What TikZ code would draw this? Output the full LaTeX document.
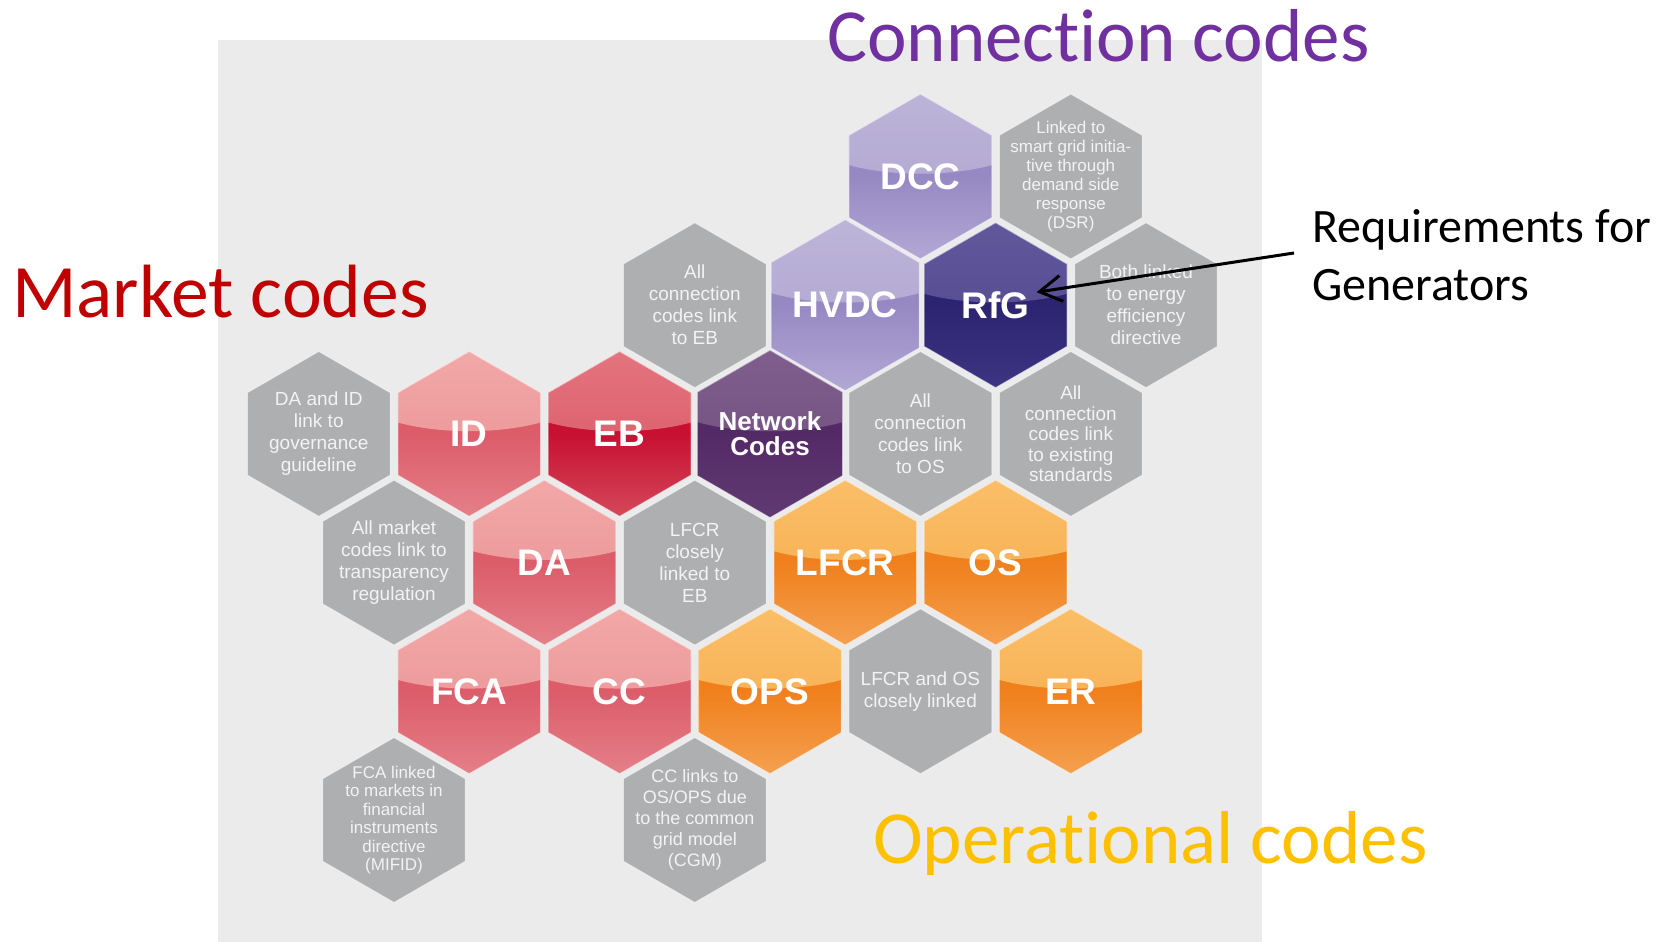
\documentclass[tikz,border=0pt]{standalone}
\usepackage{fontspec}
\setmainfont{Liberation Sans}
\newfontfamily\calibrifont[Ligatures=NoCommon]{Carlito}
\usetikzlibrary{shapes.geometric,calc,arrows.meta}

% panel and cell colours
\definecolor{panelgray}{RGB}{235,235,235}
\definecolor{cellgray}{RGB}{174,175,177}
\definecolor{celltext}{RGB}{243,243,243}
\definecolor{conncol}{RGB}{112,48,160}
\definecolor{marketcol}{RGB}{192,0,0}
\definecolor{opercol}{RGB}{255,192,0}
% glossy cell colours: highlight top, highlight bottom, body middle, body bottom
\definecolor{lpA}{RGB}{190,181,217}\definecolor{lpB}{RGB}{172,162,206}
\definecolor{lpC}{RGB}{150,137,195}\definecolor{lpD}{RGB}{178,168,212}
\definecolor{dpA}{RGB}{98,88,156}\definecolor{dpB}{RGB}{80,70,142}
\definecolor{dpC}{RGB}{44,36,112}\definecolor{dpD}{RGB}{62,53,130}
\definecolor{plA}{RGB}{128,94,142}\definecolor{plB}{RGB}{110,78,126}
\definecolor{plC}{RGB}{84,42,102}\definecolor{plD}{RGB}{96,58,114}
\definecolor{pkA}{RGB}{242,170,168}\definecolor{pkB}{RGB}{234,142,146}
\definecolor{pkC}{RGB}{220,92,106}\definecolor{pkD}{RGB}{228,128,136}
\definecolor{crA}{RGB}{228,118,128}\definecolor{crB}{RGB}{216,84,100}
\definecolor{crC}{RGB}{200,16,50}\definecolor{crD}{RGB}{212,72,90}
\definecolor{orA}{RGB}{250,192,106}\definecolor{orB}{RGB}{247,168,72}
\definecolor{orC}{RGB}{240,128,28}\definecolor{orD}{RGB}{244,160,80}

\begin{document}
\begin{tikzpicture}[x=1pt,y=-1pt,
  hexshape/.style={regular polygon, regular polygon sides=6, shape border rotate=30,
    minimum size=165pt, inner sep=0pt, outer sep=0pt,
    draw=white, draw opacity=0.55, line width=1pt},
  graycell/.style={hexshape, fill=cellgray},
  glossy/.style n args={4}{hexshape, top color=#3, bottom color=#4, middle color=#3,
    text=white, font=\bfseries\fontsize{37}{40}\selectfont,
    path picture={
      \shade[top color=#1, bottom color=#2]
        ([shift={(-80,-95)}]path picture bounding box.center)
        -- ([shift={(80,-95)}]path picture bounding box.center)
        -- ([shift={(80,-14)}]path picture bounding box.center)
        .. controls ([shift={(35,1)}]path picture bounding box.center)
        and ([shift={(-35,1)}]path picture bounding box.center)
        .. ([shift={(-80,-14)}]path picture bounding box.center) -- cycle;
    }},
  lightpurple/.style={glossy={lpA}{lpB}{lpC}{lpD}},
  darkpurple/.style={glossy={dpA}{dpB}{dpC}{dpD}},
  plum/.style={glossy={plA}{plB}{plC}{plD}},
  pink/.style={glossy={pkA}{pkB}{pkC}{pkD}},
  crimson/.style={glossy={crA}{crB}{crC}{crD}},
  orange/.style={glossy={orA}{orB}{orC}{orD}},
  celltxt/.style={align=center, text=celltext, inner sep=0pt,
    font=\fontsize{19}{22}\selectfont},
  smalltxt/.style={celltxt, font=\fontsize{17}{19}\selectfont},
  biglabel/.style={anchor=base west, inner sep=0pt,
    font=\calibrifont\fontsize{75}{80}\selectfont},
  notelabel/.style={anchor=base west, inner sep=0pt, text=black,
    font=\calibrifont\fontsize{48}{56}\selectfont},
  pointer/.style={-{Straight Barb[length=22pt,width=26pt]}, line width=3pt, draw=black}
]
\useasboundingbox (0,0) rectangle (1666,942);
\fill[white] (0,0) rectangle (1666,942);
\fill[panelgray] (218,40) rectangle (1262,942);

% row 0
\node[lightpurple] (DCC) at (770+75.2*2,176.5) {DCC};
\node[graycell] (dsr) at (770+75.2*4,176.5) {};
% row 1
\node[graycell] (ebl) at (770-75.2*1,176.5+128.7) {};
\node[lightpurple] (HVDC) at (770+75.2*1,176.5+128.7) {HVDC};
\node[darkpurple] (RfG) at (770+75.2*3,176.5+128.7) {RfG};
\node[graycell] (eff) at (770+75.2*5,176.5+128.7) {};
% row 2
\node[graycell] (gov) at (770-75.2*6,176.5+128.7*2) {};
\node[pink] (ID) at (770-75.2*4,176.5+128.7*2) {ID};
\node[crimson] (EB) at (770-75.2*2,176.5+128.7*2) {EB};
\node[plum, align=center, font=\bfseries\fontsize{26}{25}\selectfont] (NC)
  at (770,176.5+128.7*2) {Network\\Codes};
\node[graycell] (osl) at (770+75.2*2,176.5+128.7*2) {};
\node[graycell] (std) at (770+75.2*4,176.5+128.7*2) {};
% row 3
\node[graycell] (transp) at (770-75.2*5,176.5+128.7*3) {};
\node[pink] (DA) at (770-75.2*3,176.5+128.7*3) {DA};
\node[graycell] (lfeb) at (770-75.2*1,176.5+128.7*3) {};
\node[orange] (LFCR) at (770+75.2*1,176.5+128.7*3) {LFCR};
\node[orange] (OS) at (770+75.2*3,176.5+128.7*3) {OS};
% row 4
\node[pink] (FCA) at (770-75.2*4,176.5+128.7*4) {FCA};
\node[pink] (CC) at (770-75.2*2,176.5+128.7*4) {CC};
\node[orange] (OPS) at (770,176.5+128.7*4) {OPS};
\node[graycell] (lfos) at (770+75.2*2,176.5+128.7*4) {};
\node[orange] (ER) at (770+75.2*4,176.5+128.7*4) {ER};
% row 5
\node[graycell] (mifid) at (770-75.2*5,176.5+128.7*5) {};
\node[graycell] (cgm) at (770-75.2*1,176.5+128.7*5) {};

% texts of the grey cells
\node[smalltxt] (dsr-t) at (dsr.center) {Linked to\\smart grid initia-\\tive through\\demand side\\response\\(DSR)};
\node[celltxt] (ebl-t) at (ebl.center) {All\\connection\\codes link\\to EB};
\node[celltxt] (eff-t) at (eff.center) {Both linked\\to energy\\efficiency\\directive};
\node[celltxt] (gov-t) at (gov.center) {DA and ID\\link to\\governance\\guideline};
\node[celltxt] (osl-t) at (osl.center) {All\\connection\\codes link\\to OS};
\node[celltxt, font=\fontsize{19}{20.5}\selectfont] (std-t) at (std.center) {All\\connection\\codes link\\to existing\\standards};
\node[celltxt] (transp-t) at (transp.center) {All market\\codes link to\\transparency\\regulation};
\node[celltxt] (lfeb-t) at (lfeb.center) {LFCR\\closely\\linked to\\EB};
\node[celltxt] (lfos-t) at (lfos.center) {LFCR and OS\\closely linked};
\node[smalltxt, font=\fontsize{17}{18.5}\selectfont] (mifid-t) at (mifid.center) {FCA linked\\to markets in\\financial\\instruments\\directive\\(MIFID)};
\node[celltxt, font=\fontsize{18}{21}\selectfont] (cgm-t) at (cgm.center) {CC links to\\OS/OPS due\\to the common\\grid model\\(CGM)};

% group titles
\node[biglabel, text=conncol] (conn) at (827,62) {Connection codes};
\node[biglabel, text=marketcol, font=\calibrifont\fontsize{75.5}{80}\selectfont] (market) at (12,317) {Market codes};
\node[biglabel, text=opercol] (oper) at (873,863) {Operational codes};

% note with pointer
\node[notelabel] (req1) at (1312,242) {Requirements for};
\node[notelabel] (req2) at (1312,300) {Generators};
\coordinate (reqtail) at (1294,253);
\draw[pointer] (reqtail) -- ([shift={(41,-13)}]RfG.center);
\end{tikzpicture}
\end{document}
